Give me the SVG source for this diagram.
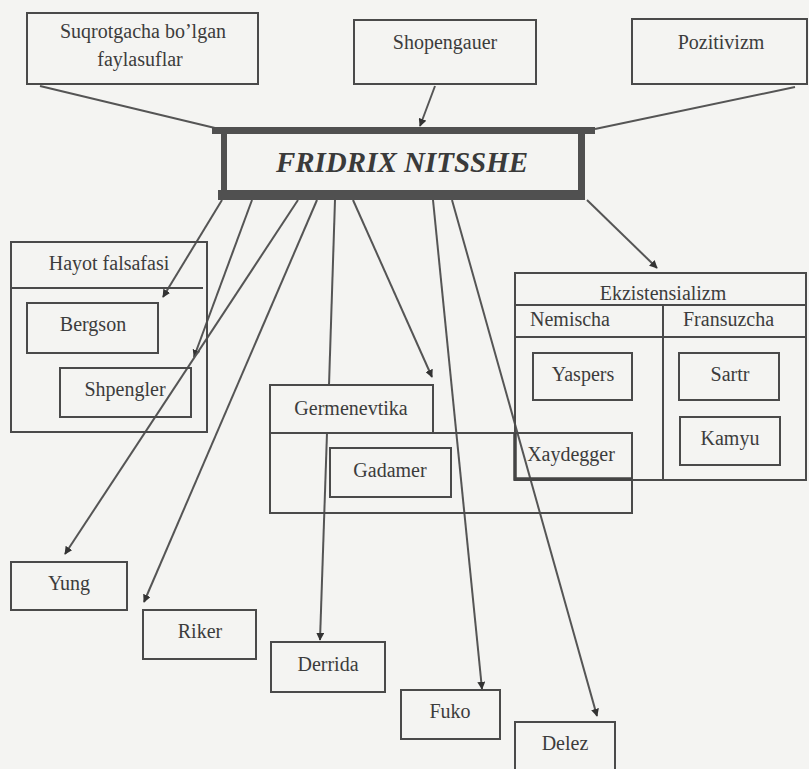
<svg xmlns="http://www.w3.org/2000/svg" width="809" height="769" viewBox="0 0 809 769">
<defs>
<style>
.bx{fill:none;stroke:#4a4a4a;stroke-width:2}
.bf{fill:#f4f4f2;stroke:#4a4a4a;stroke-width:2}
.t{font-family:"Liberation Serif","Times New Roman",serif;font-size:20px;fill:#3c3c3c;text-anchor:middle}
.tl{font-family:"Liberation Serif","Times New Roman",serif;font-size:20px;fill:#3c3c3c}
.ln{stroke:#555;stroke-width:2;fill:none}
.bar{fill:#505050}
</style>
<marker id="ah" viewBox="0 0 10 10" refX="9" refY="5" markerWidth="4" markerHeight="4" orient="auto">
<path d="M0,0 L10,5 L0,10 z" fill="#333"/>
</marker>
</defs>
<rect x="0" y="0" width="809" height="769" fill="#f4f4f2"/>

<g id="connectors">
<line class="ln" x1="40" y1="86" x2="215" y2="128"/>
<line class="ln" x1="435" y1="86" x2="420" y2="126" marker-end="url(#ah)"/>
<line class="ln" x1="795" y1="87" x2="595" y2="129"/>
<line class="ln" x1="222" y1="200" x2="163" y2="297" marker-end="url(#ah)"/>
<line class="ln" x1="252" y1="200" x2="194" y2="357" marker-end="url(#ah)"/>
<line class="ln" x1="298" y1="200" x2="65" y2="554" marker-end="url(#ah)"/>
<line class="ln" x1="317" y1="200" x2="144" y2="602" marker-end="url(#ah)"/>
<line class="ln" x1="335" y1="200" x2="329" y2="385"/>
<line class="ln" x1="327" y1="433" x2="320" y2="640" marker-end="url(#ah)"/>
<line class="ln" x1="353" y1="200" x2="432" y2="377" marker-end="url(#ah)"/>
<line class="ln" x1="433" y1="200" x2="482" y2="689" marker-end="url(#ah)"/>
<line class="ln" x1="452" y1="200" x2="597" y2="716" marker-end="url(#ah)"/>
<line class="ln" x1="587" y1="200" x2="657" y2="268" marker-end="url(#ah)"/>
</g>

<g id="suqrotgacha">
<rect class="bx" x="27" y="13" width="231" height="71"/>
<text class="t" x="143" y="38">Suqrotgacha bo’lgan</text>
<text class="t" x="140" y="66">faylasuflar</text>
</g>
<g id="shopengauer">
<rect class="bx" x="354" y="20" width="182" height="64"/>
<text class="t" x="445" y="49">Shopengauer</text>
</g>
<g id="pozitivizm">
<rect class="bx" x="632" y="19" width="175" height="65"/>
<text class="t" x="721" y="49">Pozitivizm</text>
</g>

<g id="nitsshe">
<rect x="218" y="130" width="367" height="66" fill="#f4f4f2"/>
<rect class="bar" x="212" y="127" width="383" height="7"/>
<rect class="bar" x="218" y="190" width="367" height="10"/>
<rect class="bar" x="221" y="134" width="6" height="56"/>
<rect class="bar" x="578" y="134" width="7" height="56"/>
<text x="402" y="172" font-family="'Liberation Serif','Times New Roman',serif" font-size="29" font-weight="bold" font-style="italic" fill="#3a3a3a" text-anchor="middle">FRIDRIX NITSSHE</text>
</g>

<g id="hayot">
<rect class="bx" x="11" y="242" width="196" height="190"/>
<line class="bx" x1="11" y1="288" x2="203" y2="288"/>
<text class="t" x="109" y="270">Hayot falsafasi</text>
</g>
<g id="bergson">
<rect class="bx" x="27" y="303" width="131" height="50"/>
<text class="t" x="93" y="331">Bergson</text>
</g>
<g id="shpengler">
<rect class="bx" x="60" y="368" width="131" height="49"/>
<text class="t" x="125" y="396">Shpengler</text>
</g>

<g id="germenevtika">
<rect class="bx" x="270" y="433" width="362" height="80"/>
<rect class="bf" x="270" y="385" width="163" height="48"/>
<text class="t" x="351" y="415">Germenevtika</text>
</g>
<g id="gadamer">
<rect class="bx" x="330" y="448" width="121" height="49"/>
<text class="t" x="390" y="477">Gadamer</text>
</g>

<g id="ekzistensializm">
<rect class="bx" x="515" y="273" width="291" height="207"/>
<line class="bx" x1="515" y1="305" x2="806" y2="305"/>
<line class="bx" x1="515" y1="337" x2="806" y2="337"/>
<line class="bx" x1="663" y1="305" x2="663" y2="480"/>
<text class="t" x="663" y="300">Ekzistensializm</text>
<text class="tl" x="530" y="326">Nemischa</text>
<text class="tl" x="683" y="326">Fransuzcha</text>
</g>
<g id="yaspers">
<rect class="bx" x="533" y="353" width="99" height="47"/>
<text class="t" x="583" y="381">Yaspers</text>
</g>
<g id="xaydegger">
<rect class="bx" x="515" y="433" width="117" height="46"/>
<path d="M515,433 V479 H632" fill="none" stroke="#444" stroke-width="3.5"/>
<text class="t" x="571" y="461">Xaydegger</text>
</g>
<g id="sartr">
<rect class="bx" x="679" y="353" width="100" height="47"/>
<text class="t" x="730" y="381">Sartr</text>
</g>
<g id="kamyu">
<rect class="bx" x="680" y="417" width="100" height="48"/>
<text class="t" x="730" y="445">Kamyu</text>
</g>

<g id="yung">
<rect class="bx" x="11" y="562" width="116" height="48"/>
<text class="t" x="69" y="590">Yung</text>
</g>
<g id="riker">
<rect class="bx" x="143" y="610" width="113" height="49"/>
<text class="t" x="200" y="638">Riker</text>
</g>
<g id="derrida">
<rect class="bx" x="271" y="642" width="114" height="50"/>
<text class="t" x="328" y="671">Derrida</text>
</g>
<g id="fuko">
<rect class="bx" x="401" y="690" width="99" height="49"/>
<text class="t" x="450" y="718">Fuko</text>
</g>
<g id="delez">
<rect class="bx" x="515" y="722" width="100" height="50"/>
<text class="t" x="565" y="750">Delez</text>
</g>
</svg>
